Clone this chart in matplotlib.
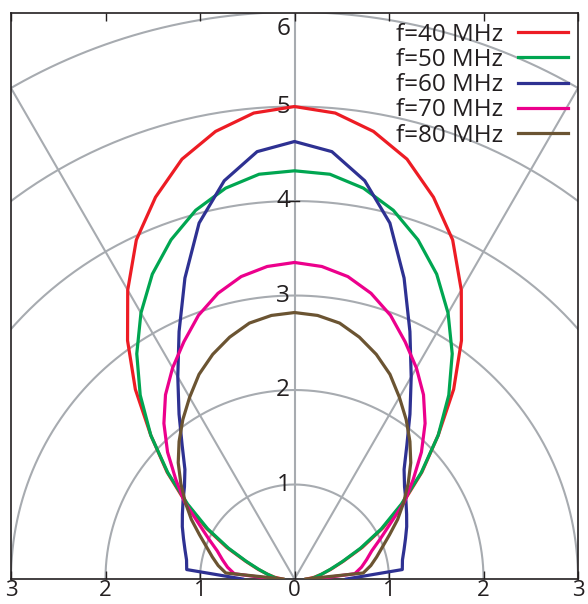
import numpy as np
import matplotlib
matplotlib.use("Agg")
import matplotlib.pyplot as plt

plt.rcParams['font.family'] = ['Open Sans', 'DejaVu Sans']

# angle from the vertical axis (degrees), one side; the pattern is symmetric
angles = [0, 5, 10, 15, 20, 25, 30, 35, 40, 45, 50, 55, 60, 65, 70, 75, 80, 85, 90]

r_40 = [5.00, 4.95, 4.81, 4.60, 4.30, 3.96, 3.53, 3.08, 2.62, 2.15, 1.76, 1.40,
        1.08, 0.79, 0.55, 0.40, 0.29, 0.21, 0.13]
r_50 = [4.32, 4.30, 4.20, 4.04, 3.82, 3.56, 3.25, 2.91, 2.54, 2.15, 1.75, 1.38,
        1.06, 0.77, 0.54, 0.39, 0.29, 0.22, 0.17]
r_60 = [4.63, 4.54, 4.28, 3.90, 3.39, 2.89, 2.47, 2.13, 1.85, 1.64, 1.52, 1.44,
        1.37, 1.31, 1.25, 1.20, 1.16, 1.145, 0.55]
r_70 = [3.35, 3.32, 3.25, 3.13, 2.97, 2.77, 2.58, 2.38, 2.15, 1.90, 1.64, 1.42,
        1.17, 1.00, 0.87, 0.79, 0.72, 0.64, 0.22]
r_80 = [2.82, 2.80, 2.75, 2.65, 2.53, 2.39, 2.22, 2.06, 1.90, 1.74, 1.57, 1.41,
        1.26, 1.11, 0.99, 0.90, 0.82, 0.73, 0.12]

labels = ['f=40 MHz', 'f=50 MHz', 'f=60 MHz', 'f=70 MHz', 'f=80 MHz']
colors = ['#ed1c24', '#00a651', '#2e3192', '#ec008c', '#6b5432']

rings = [1, 2, 3, 4, 5, 6]
spokes = [-30, 0, 30]
xticks = [-3, -2, -1, 0, 1, 2, 3]
xticklabels = ['3', '2', '1', '0', '1', '2', '3']

grid_col = '#a7abb0'
ink = '#231f20'
fs = 17.5

fig = plt.figure(figsize=(5.88, 6.04), dpi=100)
ax = fig.add_axes([11 / 588, 25 / 604, 567 / 588, 566 / 604])

# polar grid
phi = np.linspace(0, np.pi, 361)
for r in rings:
    ax.plot(r * np.cos(phi), r * np.sin(phi), color=grid_col, lw=1.5, zorder=1)
for s in spokes:
    a = np.radians(s)
    ax.plot([0, 8 * np.sin(a)], [0, 8 * np.cos(a)], color=grid_col, lw=1.5, zorder=1)

# ring labels along the vertical axis
for r in rings:
    yl = r if r < 6 else 5.82
    ax.text(-0.045, yl, str(r), ha='right', va='center', fontsize=fs, color=ink)
ax.plot([-0.06, 0.05], [4, 4], color=ink, lw=1.0, zorder=2)

# radiation patterns
th = np.radians(np.array(angles, dtype=float))
theta_full = np.concatenate([-th[::-1], th[1:]])
for rv, lab, col in zip([r_40, r_50, r_60, r_70, r_80], labels, colors):
    rv = np.array(rv)
    r_full = np.concatenate([rv[::-1], rv[1:]])
    ax.plot(r_full * np.sin(theta_full), r_full * np.cos(theta_full),
            color=col, lw=2.3, label=lab, zorder=3)

ax.set_xlim(-3, 3)
ax.set_ylim(0, 5.99)

ax.set_xticks(xticks)
ax.set_xticklabels(xticklabels, fontsize=16, color=ink)
ax.set_yticks([])
ax.tick_params(axis='x', direction='in', top=True, bottom=True, length=6,
               width=1.0, pad=1, color=ink)
for sp in ax.spines.values():
    sp.set_linewidth(1.2)
    sp.set_color(ink)

leg = ax.legend(loc='upper right', frameon=False, markerfirst=False, fontsize=fs,
                handlelength=2.05, handletextpad=0.65, labelspacing=0.05,
                borderpad=0, borderaxespad=0.4)
for t in leg.get_texts():
    t.set_color(ink)

fig.savefig('out.png', dpi=100)
